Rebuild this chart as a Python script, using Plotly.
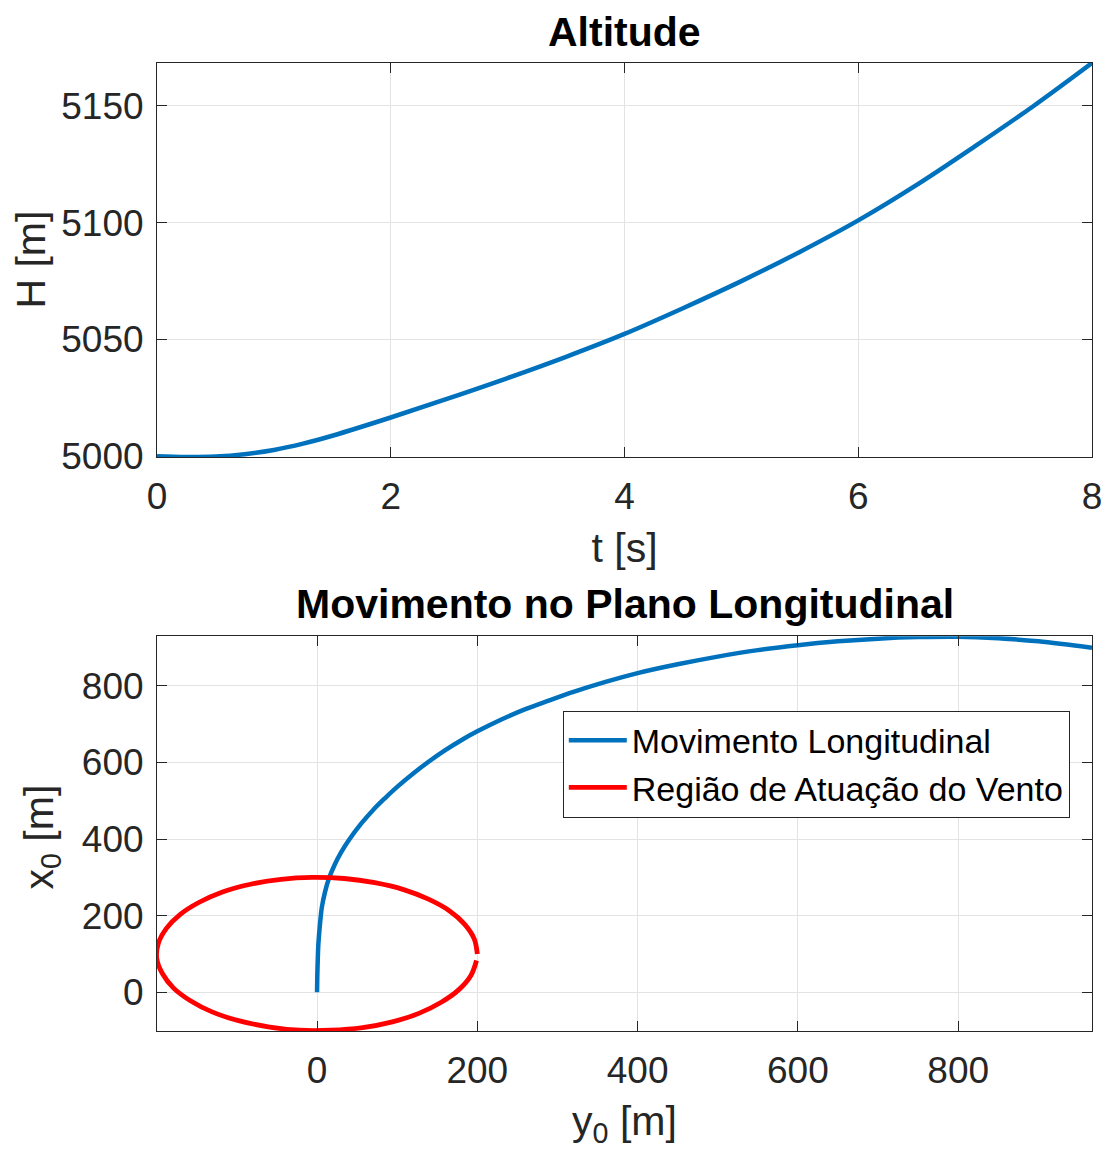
import plotly.graph_objects as go

# Altitude history
t_s = [0, 0.25, 0.5, 0.75, 1.0, 1.25, 1.5, 2.0, 2.5, 3.0, 3.5, 4.0,
       4.5, 5.0, 5.5, 6.0, 6.5, 7.0, 7.5, 8.0]
altitude_m = [5000.0, 4999.7, 4999.9, 5000.9, 5002.7, 5005.4, 5008.8,
              5016.6, 5024.9, 5033.5, 5042.6, 5052.4, 5063.4, 5075.0,
              5087.5, 5101.0, 5116.2, 5132.8, 5150.0, 5168.4]

# Longitudinal-plane trajectory (y0 horizontal, x0 vertical)
traj_y0 = [0, 0.3, 0.9, 1.7, 3.5, 6, 10, 15, 22, 30, 40, 55, 70, 85, 100,
           120, 140, 160, 180, 200, 230, 260, 290, 320, 360, 400, 450, 500,
           550, 600, 650, 700, 750, 800, 850, 900, 967]
traj_x0 = [0, 40, 85, 127, 174, 222, 262, 298, 333, 365, 398, 440, 476,
           507, 536, 571, 603, 632, 658, 681, 712, 739, 762, 784, 810, 833,
           856, 876, 893, 906, 916, 923, 927, 928, 924, 916, 899]

# Boundary of the wind-action region
wind_y0 = [200, 196, 184, 165, 139, 108, 72, 34, -6, -45, -83, -118, -147,
           -171, -188, -198, -200, -193, -179, -158, -131, -98, -61, -22,
           17, 57, 94, 127, 155, 177, 192, 199]
wind_x0 = [100, 140, 178, 213, 243, 268, 286, 297, 300, 295, 282, 262, 235,
           203, 167, 128, 88, 49, 11, -22, -51, -74, -90, -99, -99, -92,
           -77, -55, -26, 7, 44, 83]

FONT = "Liberation Sans, Arial, Helvetica, sans-serif"
AX = "#262626"
GRID = "#e3e3e3"
BLUE = "#0072BD"
RED = "#FF0000"

fig = go.Figure()

fig.add_trace(go.Scatter(
    x=t_s, y=altitude_m, mode="lines", line=dict(color=BLUE, width=4.5),
    line_shape="spline", showlegend=False, xaxis="x", yaxis="y"))

fig.add_trace(go.Scatter(
    x=traj_y0, y=traj_x0, mode="lines", name="Movimento Longitudinal",
    line=dict(color=BLUE, width=4.5), line_shape="spline",
    xaxis="x2", yaxis="y2"))

fig.add_trace(go.Scatter(
    x=wind_y0, y=wind_x0, mode="lines", name="Região de Atuação do Vento",
    line=dict(color=RED, width=4.8), line_shape="spline",
    xaxis="x2", yaxis="y2"))

axis_common = dict(
    showline=True, linecolor=AX, linewidth=1, mirror="ticks",
    ticks="inside", ticklen=10, tickwidth=1, tickcolor=AX,
    showgrid=True, gridcolor=GRID, gridwidth=1, zeroline=False,
    automargin=False,
    tickfont=dict(family=FONT, size=37, color=AX),
)
x_common = dict(axis_common, ticklabelstandoff=7)
y_common = dict(axis_common, ticklabelstandoff=5)

fig.update_layout(
    width=1107, height=1153,
    margin=dict(l=157, r=14.5, t=63, b=122.3),
    paper_bgcolor="white", plot_bgcolor="white",
    font=dict(family=FONT, color=AX),
    xaxis=dict(domain=[0, 1], anchor="y", range=[0, 8],
               tickvals=[0, 2, 4, 6, 8],
               title=dict(text="t [s]", font=dict(size=41, color=AX),
                          standoff=16),
               **x_common),
    yaxis=dict(domain=[0.593, 1], anchor="x", range=[4999.7, 5168.4],
               tickvals=[5000, 5050, 5100, 5150], **y_common),
    xaxis2=dict(domain=[0, 1], anchor="y2", range=[-199.7, 967],
                tickvals=[0, 200, 400, 600, 800],
                title=dict(text="y<sub>0</sub> [m]",
                           font=dict(size=41, color=AX), standoff=15),
                **x_common),
    yaxis2=dict(domain=[0, 0.4077], anchor="x2", range=[-101, 929],
                tickvals=[0, 200, 400, 600, 800], **y_common),
    legend=dict(x=0.434, y=0.331, xanchor="left", yanchor="top",
                bgcolor="white", bordercolor=AX, borderwidth=1,
                itemwidth=58,
                font=dict(family=FONT, size=34, color="black"),
                tracegroupgap=0),
    annotations=[
        dict(text="<b>Altitude</b>", x=0.5, xref="paper", xanchor="center",
             y=1.032, yref="paper", yanchor="middle", showarrow=False,
             font=dict(family=FONT, size=41, color="black")),
        dict(text="<b>Movimento no Plano Longitudinal</b>", x=0.5,
             xref="paper", xanchor="center", y=0.4415, yref="paper",
             yanchor="middle", showarrow=False,
             font=dict(family=FONT, size=41, color="black")),
        dict(text="H [m]", textangle=-90, x=-0.1358, xref="paper",
             xanchor="center", y=0.797, yref="paper", yanchor="middle",
             showarrow=False, font=dict(family=FONT, size=41, color=AX)),
        dict(text="x<sub>0</sub> [m]", textangle=-90, x=-0.1229,
             xref="paper", xanchor="center", y=0.200, yref="paper",
             yanchor="middle", showarrow=False,
             font=dict(family=FONT, size=41, color=AX)),
    ],
)

fig.write_html("out.html")
